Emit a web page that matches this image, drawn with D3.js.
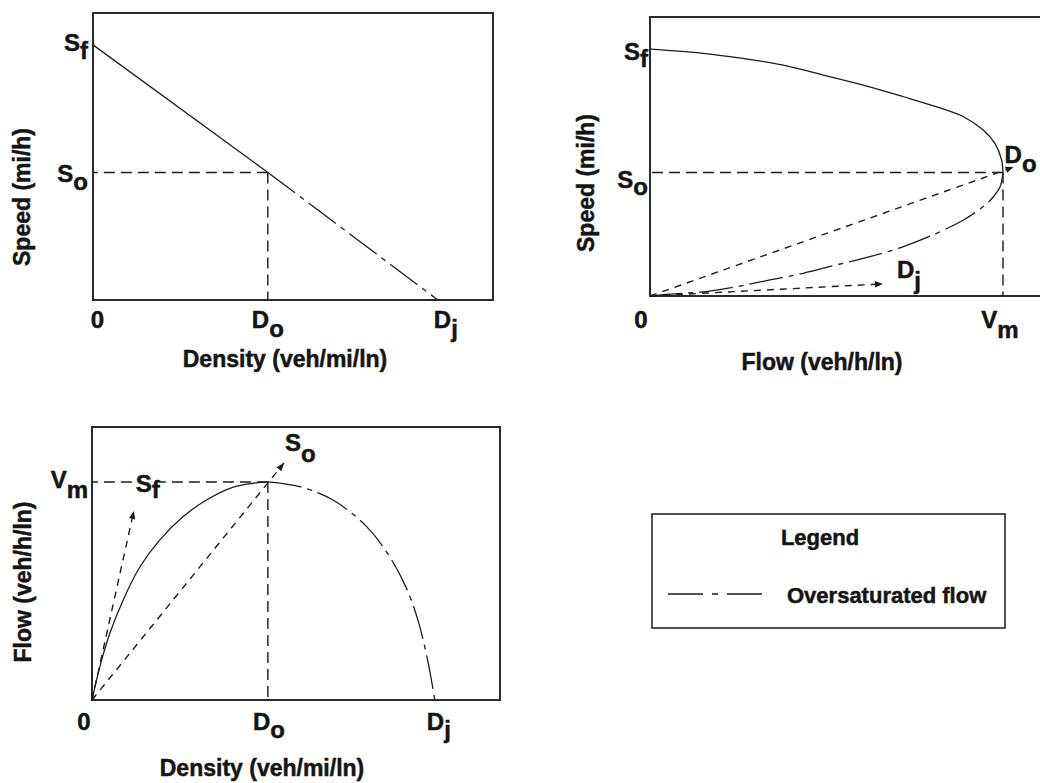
<!DOCTYPE html>
<html><head><meta charset="utf-8">
<script src="https://cdn.jsdelivr.net/npm/d3@7"></script>
<style>
body{margin:0;background:#fff}
text{font-family:"Liberation Sans",Arial,sans-serif;font-weight:bold;fill:#151515;stroke:#151515;stroke-width:0.5px}
</style>
</head><body>
<svg id="chart" width="1040" height="783"></svg>
<script>
// ---------------- DATA ----------------
// Panel 1: speed vs density (top-left)
const sdDensity = [0, 50.7, 100];
const sdSpeed   = [100, 50, 0];
const sdOptDensity = 50.7, sdOptSpeed = 50;
const sdXTickValues = [0, 50.7, 100];
const sdXTickLabels = [["0",""],["D","o"],["D","j"]];
const sdYTickValues = [100, 50];
const sdYTickLabels = [["S","f"],["S","o"]];

// Panel 2: speed vs flow (top-right)
const sfFlowUpper  = [0,15.1,26.4,37.8,49.1,60.4,71.8,81.2,88.8,94.4,97.7,99.6,100];
const sfSpeedUpper = [100,98.3,96.2,93.5,89.5,85.4,80.7,76.6,72.6,67.2,61.8,55.1,50];
const sfFlowLower  = [100,99.2,97.3,94.4,88.8,81.2,71.8,62.3,52.9,43.4,34.0,24.6,15.1,5.7,0];
const sfSpeedLower = [50,44.3,40.2,36.2,30.8,25.4,20.0,15.9,12.6,9.2,6.5,3.8,1.7,0.8,0];
const sfMaxFlow = 100, sfOptSpeed = 50;
const sfRayDoEnd = [103, 52.2];
const sfRayDjEnd = [66, 4.9];
const sfXTickValues = [0, 100];
const sfXTickLabels = [["0",""],["V","m"]];
const sfYTickValues = [100, 50];
const sfYTickLabels = [["S","f"],["S","o"]];

// Panel 3: flow vs density (bottom-left)
const fdDensityUncong = [0,2.3,5.2,9.1,14.0,19.8,26.6,33.4,41.2,47.0,51.3];
const fdFlowUncong    = [0,15.3,30.6,45.9,61.1,73.4,84.1,91.7,97.6,99.4,100];
const fdDensityCong   = [51.3,60.6,70.3,80.1,86.5,91.5,95.0,97.8,100];
const fdFlowCong      = [100,97.8,91.7,79.5,66.5,52.0,37.0,19.0,0];
const fdOptDensity = 51.3, fdMaxFlow = 100;
const fdRaySfEnd = [12.2, 86.7];
const fdRaySoEnd = [56, 108.7];
const fdXTickValues = [0, 51.3, 100];
const fdXTickLabels = [["0",""],["D","o"],["D","j"]];
const fdYTickValues = [100];
const fdYTickLabels = [["V","m"]];

const legendTitle = "Legend";
const legendItem = "Oversaturated flow";

// ---------------- DRAWING ----------------
const svg = d3.select("#chart");
const INK = "#1c1c1c";
const REF_DASH = "11,6";
const RAY_DASH = "7,6";
const OVER_DASH = "34,6,5,6";

const defs = svg.append("defs");
defs.append("marker").attr("id","arr").attr("viewBox","0 -5 10 10")
  .attr("refX",10).attr("refY",0).attr("markerWidth",10).attr("markerHeight",8)
  .attr("markerUnits","userSpaceOnUse").attr("orient","auto")
  .append("path").attr("d","M0,-4L10,0L0,4Z").attr("fill",INK);

function label(g, x, y, main, sub, anchor, subDy){
  const t = g.append("text").attr("x",x).attr("y",y).attr("text-anchor",anchor||"start")
    .style("font-size","24px");
  t.append("tspan").text(main);
  if(sub) t.append("tspan").attr("dy",subDy).text(sub);
  return t;
}
function title(g, x, y, txt, rotate){
  const t = g.append("text").attr("text-anchor","middle").style("font-size","23px").text(txt);
  if(rotate) t.attr("transform",`translate(${x},${y}) rotate(-90)`);
  else t.attr("x",x).attr("y",y);
  return t;
}
function box(g, x, y){
  const [x0,x1] = x.range(), [y0,y1] = y.range();
  g.append("rect").attr("x",x0).attr("y",y1).attr("width",x1-x0).attr("height",y0-y1)
    .attr("fill","none").attr("stroke","#2a2a2a").attr("stroke-width",2);
}
function path(g, xs, ys, x, y, dash, curve, width){
  const pts = xs.map((v,i)=>[v, ys[i]]);
  const line = d3.line().x(d=>x(d[0])).y(d=>y(d[1])).curve(curve||d3.curveLinear);
  const p = g.append("path").attr("d",line(pts)).attr("fill","none")
    .attr("stroke",INK).attr("stroke-width",width||1.3);
  if(dash) p.attr("stroke-dasharray",dash);
  return p;
}
function seg(g, a, b, x, y, dash, arrow){
  const l = g.append("line").attr("x1",x(a[0])).attr("y1",y(a[1]))
    .attr("x2",x(b[0])).attr("y2",y(b[1])).attr("stroke",INK).attr("stroke-width",1.4)
    .attr("stroke-dasharray",dash);
  if(arrow) l.attr("marker-end","url(#arr)");
  return l;
}

// ---- Panel 1 ----
{
  const g = svg.append("g");
  const x = d3.scaleLinear().domain([0,116]).range([93,493]);
  const y = d3.scaleLinear().domain([0,112.5]).range([300,13]);
  box(g,x,y);
  seg(g,[sdOptDensity,sdOptSpeed],[0,sdOptSpeed],x,y,REF_DASH);
  seg(g,[sdOptDensity,sdOptSpeed],[sdOptDensity,0],x,y,REF_DASH);
  path(g, sdDensity.slice(0,2), sdSpeed.slice(0,2), x, y, null);
  path(g, sdDensity.slice(1), sdSpeed.slice(1), x, y, OVER_DASH);
  const xOff = [4.5, 0, 8];
  sdXTickValues.forEach((v,i)=>label(g, x(v)+xOff[i], y(0)+28, sdXTickLabels[i][0], sdXTickLabels[i][1], "middle", 9));
  const yOff = [6, 10];
  sdYTickValues.forEach((v,i)=>label(g, 88, y(v)+yOff[i], sdYTickLabels[i][0], sdYTickLabels[i][1], "end", 8));
  title(g, 285, 367, "Density (veh/mi/ln)");
  title(g, 30, 197, "Speed (mi/h)", true);
}

// ---- Panel 2 ----
{
  const g = svg.append("g");
  const x = d3.scaleLinear().domain([0,111.9]).range([650,1045]);
  const y = d3.scaleLinear().domain([0,113]).range([296,17]);
  box(g,x,y);
  seg(g,[sfMaxFlow,sfOptSpeed],[0,sfOptSpeed],x,y,REF_DASH);
  seg(g,[sfMaxFlow,sfOptSpeed],[sfMaxFlow,0],x,y,REF_DASH);
  seg(g,[0,0],sfRayDoEnd,x,y,RAY_DASH,true);
  seg(g,[0,0],sfRayDjEnd,x,y,RAY_DASH,true);
  path(g, sfFlowUpper, sfSpeedUpper, x, y, null, d3.curveCatmullRom.alpha(0.5));
  path(g, sfFlowLower, sfSpeedLower, x, y, OVER_DASH, d3.curveCatmullRom.alpha(0.5));
  const xOff = [-9, -3];
  sfXTickValues.forEach((v,i)=>label(g, x(v)+xOff[i], y(0)+32, sfXTickLabels[i][0], sfXTickLabels[i][1], "middle", 10));
  const yOff = [11, 15];
  sfYTickValues.forEach((v,i)=>label(g, 648, y(v)+yOff[i], sfYTickLabels[i][0], sfYTickLabels[i][1], "end", 7));
  label(g, x(sfRayDoEnd[0])-9, y(sfRayDoEnd[1])-4, "D", "o", "start", 9);
  label(g, x(sfRayDjEnd[0])+14, y(sfRayDjEnd[1])-6, "D", "j", "start", 11);
  title(g, 822, 370, "Flow (veh/h/ln)");
  title(g, 594, 183, "Speed (mi/h)", true);
}

// ---- Panel 3 ----
{
  const g = svg.append("g");
  const x = d3.scaleLinear().domain([0,119]).range([92,500]);
  const y = d3.scaleLinear().domain([0,125.2]).range([700,427]);
  box(g,x,y);
  seg(g,[fdOptDensity,fdMaxFlow],[0,fdMaxFlow],x,y,REF_DASH);
  seg(g,[fdOptDensity,fdMaxFlow],[fdOptDensity,0],x,y,REF_DASH);
  seg(g,[0,0],fdRaySfEnd,x,y,RAY_DASH,true);
  seg(g,[0,0],fdRaySoEnd,x,y,RAY_DASH,true);
  path(g, fdDensityUncong, fdFlowUncong, x, y, null, d3.curveCatmullRom.alpha(0.5));
  path(g, fdDensityCong, fdFlowCong, x, y, OVER_DASH, d3.curveCatmullRom.alpha(0.5));
  const xOff = [-8, 1, 4];
  fdXTickValues.forEach((v,i)=>label(g, x(v)+xOff[i], y(0)+30, fdXTickLabels[i][0], fdXTickLabels[i][1], "middle", 8));
  fdYTickValues.forEach((v,i)=>label(g, 88, y(v)+6, fdYTickLabels[i][0], fdYTickLabels[i][1], "end", 10));
  // Sf label over the Vm reference line
  const sfx = x(fdRaySfEnd[0])+2, sfy = y(fdMaxFlow)+10;
  g.append("rect").attr("x",sfx-2).attr("y",sfy-20).attr("width",26).attr("height",22).attr("fill","#fff");
  label(g, sfx, sfy, "S", "f", "start", 6);
  label(g, x(fdRaySoEnd[0])+1, y(fdRaySoEnd[1])-12, "S", "o", "start", 11);
  title(g, 262, 776, "Density (veh/mi/ln)");
  title(g, 31, 582, "Flow (veh/h/ln)", true);
}

// ---- Legend ----
{
  const g = svg.append("g");
  g.append("rect").attr("x",652).attr("y",514).attr("width",353).attr("height",114)
    .attr("fill","none").attr("stroke","#2a2a2a").attr("stroke-width",1.6);
  g.append("text").attr("x",820).attr("y",545).attr("text-anchor","middle").style("font-size","22px").text(legendTitle);
  g.append("line").attr("x1",668).attr("x2",762).attr("y1",594).attr("y2",594)
    .attr("stroke",INK).attr("stroke-width",1.6).attr("stroke-dasharray","35,9,6,9");
  g.append("text").attr("x",787).attr("y",603).style("font-size","22px").text(legendItem);
}
</script>
</body></html>
